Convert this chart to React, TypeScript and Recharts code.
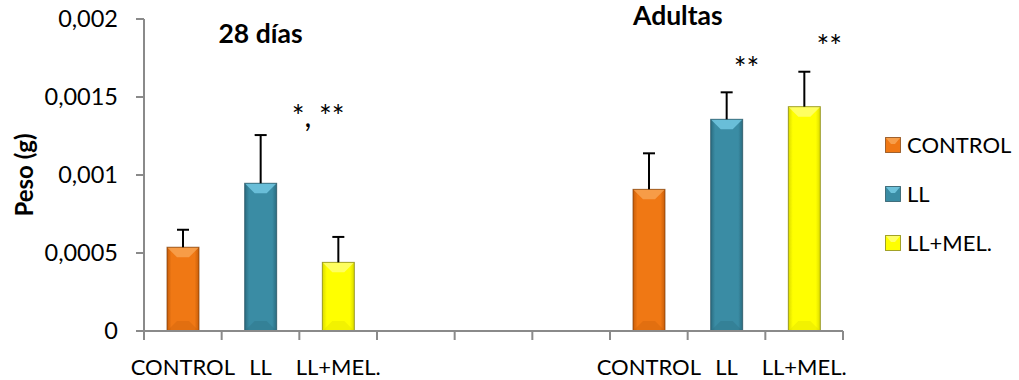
import React from 'react';
import { BarChart, Bar, XAxis, YAxis, Legend, ReferenceDot } from 'recharts';

// ---- data ----
const categoryKeys = ['c1', 'c2', 'c3', 'c4', 'c5', 'c6', 'c7', 'c8', 'c9'];
const categoryLabels = ['CONTROL', 'LL', 'LL+MEL.', '', '', '', 'CONTROL', 'LL', 'LL+MEL.'];
const controlValues = [0.000537, null, null, null, null, null, 0.000908, null, null];
const llValues = [null, 0.000947, null, null, null, null, null, 0.001357, null];
const melValues = [null, null, 0.00044, null, null, null, null, null, 0.001438];
const errorValues = [0.000112, 0.000309, 0.000163, null, null, null, 0.000231, 0.000173, 0.000224];
const yTicks = [0, 0.0005, 0.001, 0.0015, 0.002];
const seriesNames = ['CONTROL', 'LL', 'LL+MEL.'];
const seriesKeys = ['control', 'll', 'mel'];

const notes = [
  { cat: 'c3', value: 0.00131, text: '*, **', dx: -20 },
  { cat: 'c8', value: 0.001618, text: '**', dx: 20 },
  { cat: 'c9', value: 0.001759, text: '**', dx: 25 },
];
const titles = [
  { cat: 'c2', value: 0.001846, text: '28 días', dx: 0 },
  { cat: 'c7', value: 0.001962, text: 'Adultas', dx: 29 },
];

const data = categoryKeys.map((k, i) => ({
  cat: k,
  control: controlValues[i],
  ll: llValues[i],
  mel: melValues[i],
  err: errorValues[i],
}));
const labelByKey: Record<string, string> = {};
categoryKeys.forEach((k, i) => (labelByKey[k] = categoryLabels[i]));

// ---- styles ----
const FONT = 'Lato, "Open Sans", sans-serif';
const AXIS = '#8a8a8a';
const palette: Record<string, { base: string; light: string; dark: string; edge: string }> = {
  control: { base: '#F07814', light: '#F9A858', dark: '#C85E0A', edge: '#7A3A06' },
  ll: { base: '#3A8CA4', light: '#7ACFE9', dark: '#2B6C80', edge: '#1C4A58' },
  mel: { base: '#FFFF00', light: '#FFFF80', dark: '#DADA00', edge: '#7A7A00' },
};

let gradCounter = 0;
const makeBevel = (key: string) => (props: any) => {
  const { x, y, width, height } = props;
  if (!height || height <= 0 || !width) return null;
  const c = palette[key];
  const id = `g-${key}-${props.index ?? gradCounter++}`;
  const b = Math.min(10, width / 2, height / 2);
  return (
    <g>
      <defs>
        <linearGradient id={id} x1="0" y1="0" x2="1" y2="0">
          <stop offset="0%" stopColor={c.dark} />
          <stop offset="14%" stopColor={c.base} />
          <stop offset="86%" stopColor={c.base} />
          <stop offset="100%" stopColor={c.dark} />
        </linearGradient>
      </defs>
      <rect x={x} y={y} width={width} height={height} fill={`url(#${id})`} />
      <polygon
        points={`${x},${y} ${x + width},${y} ${x + width - b},${y + b} ${x + b},${y + b}`}
        fill={c.light}
        opacity={0.75}
      />
      <polygon
        points={`${x},${y + height} ${x + width},${y + height} ${x + width - b},${y + height - b} ${x + b},${y + height - b}`}
        fill={c.dark}
        opacity={0.35}
      />
      <rect x={x} y={y} width={width} height={height} fill="none" stroke={c.edge} strokeWidth={1} strokeOpacity={0.7} />
    </g>
  );
};

const ErrorWhisker = (props: any) => {
  const { x, y, width, height } = props;
  if (!height || height <= 0) return null;
  const cx = x + width / 2;
  return (
    <g>
      <line x1={cx} y1={y + height} x2={cx} y2={y} stroke="#000" strokeWidth={2} />
      <line x1={cx - 6} y1={y} x2={cx + 6} y2={y} stroke="#000" strokeWidth={2} />
    </g>
  );
};

const CategoryTick = (props: any) => {
  const { x, y, payload, index, visibleTicksCount, width } = props;
  const half = payload && payload.offset ? payload.offset : width / visibleTicksCount / 2;
  const label = labelByKey[payload.value] ?? '';
  return (
    <g>
      <line x1={x - half} x2={x - half} y1={y} y2={y + 9} stroke={AXIS} strokeWidth={2} />
      {index === visibleTicksCount - 1 && (
        <line x1={x + half} x2={x + half} y1={y} y2={y + 9} stroke={AXIS} strokeWidth={2} />
      )}
      <text x={x} y={y + 28} dy="0.71em" textAnchor="middle" fill="#000" fontSize={22} fontFamily={FONT}>
        {label}
      </text>
    </g>
  );
};

const LegendIcon = ({ k }: { k: string }) => {
  const c = palette[k];
  return (
    <svg width={16} height={16} style={{ display: 'block' }}>
      <rect x={0.5} y={0.5} width={15} height={15} fill={c.base} stroke={c.edge} strokeOpacity={0.7} />
      <polygon points="1,1 15,1 10,7 6,7" fill={c.light} opacity={0.8} />
    </svg>
  );
};

const renderLegend = () => (
  <div style={{ fontFamily: FONT, fontSize: 22, color: '#000' }}>
    {seriesNames.map((name, i) => (
      <div key={name} style={{ display: 'flex', alignItems: 'center', height: 49 }}>
        <LegendIcon k={seriesKeys[i]} />
        <span style={{ marginLeft: 6, lineHeight: '22px' }}>{name}</span>
      </div>
    ))}
  </div>
);

const YLabel = (props: any) => {
  const vb = props.viewBox || { x: 0, y: 19, width: 144, height: 312 };
  const cx = vb.x + 23;
  const cy = vb.y + vb.height / 2;
  return (
    <text
      x={cx}
      y={cy}
      transform={`rotate(-90, ${cx}, ${cy})`}
      textAnchor="middle"
      dominantBaseline="central"
      fontFamily={FONT}
      fontWeight="bold"
      fontSize={24}
      fill="#000"
    >
      Peso (g)
    </text>
  );
};

export default function App() {
  return (
    <div style={{ position: 'absolute', left: 0, top: 0, width: 1019, height: 380, background: '#fff' }}>
      <BarChart width={1019} height={380} data={data} margin={{ top: 19, right: 176, bottom: 0, left: 0 }}>
        <XAxis
          dataKey="cat"
          height={49}
          interval={0}
          tickLine={false}
          tickSize={0}
          tickMargin={0}
          tick={<CategoryTick />}
          axisLine={{ stroke: AXIS, strokeWidth: 2 }}
        />
        <YAxis
          width={144}
          domain={[0, 0.002]}
          ticks={yTicks}
          interval={0}
          allowDataOverflow
          tickFormatter={(v: number) => String(v).replace('.', ',')}
          tickSize={8}
          tickMargin={18}
          axisLine={{ stroke: AXIS, strokeWidth: 2 }}
          tickLine={{ stroke: AXIS, strokeWidth: 2 }}
          tick={{ fill: '#000', fontSize: 23.5, fontFamily: FONT }}
          label={<YLabel />}
        />
        <Legend
          verticalAlign="middle"
          align="center"
          layout="vertical"
          content={renderLegend}
          wrapperStyle={{ left: 885, top: 120, width: 134, height: 150 }}
        />
        {seriesKeys.map((k, i) => (
          <Bar
            key={k}
            dataKey={k}
            name={seriesNames[i]}
            stackId="s"
            barSize={32}
            fill={palette[k].base}
            shape={makeBevel(k)}
            isAnimationActive={false}
          />
        ))}
        <Bar dataKey="err" stackId="s" barSize={32} legendType="none" fill="transparent" shape={<ErrorWhisker />} isAnimationActive={false} />
        {notes.map((n) => (
          <ReferenceDot
            key={n.cat + n.text}
            x={n.cat}
            y={n.value}
            r={0}
            ifOverflow="visible"
            shape={(p: any) => (
              <text x={p.cx + n.dx} y={p.cy} textAnchor="middle" fontFamily={FONT} fontSize={30} fill="#000">
                {n.text}
              </text>
            )}
          />
        ))}
        {titles.map((t) => (
          <ReferenceDot
            key={t.text}
            x={t.cat}
            y={t.value}
            r={0}
            ifOverflow="visible"
            shape={(p: any) => (
              <text x={p.cx + t.dx} y={p.cy} textAnchor="middle" fontFamily={FONT} fontWeight="bold" fontSize={26.5} fill="#000">
                {t.text}
              </text>
            )}
          />
        ))}
      </BarChart>
    </div>
  );
}
